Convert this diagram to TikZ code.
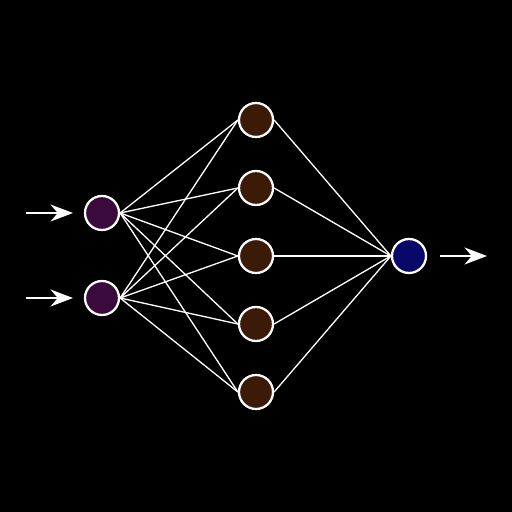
\documentclass[tikz,border=0pt]{standalone}
\usetikzlibrary{arrows.meta}
\definecolor{inpurple}{RGB}{58,10,60}
\definecolor{hidbrown}{RGB}{60,26,8}
\definecolor{outnavy}{RGB}{8,8,104}
\tikzset{
    neuron/.style={circle, draw=white, line width=1.3pt, minimum size=0.68cm, inner sep=0pt},
    link/.style={white, line width=0.75pt},
    flow/.style={white, line width=1pt, -{Stealth[length=4.5mm, width=3.4mm]}}
}
\begin{document}
\begin{tikzpicture}
    % Nền đen, khung 10.24 x 10.24
    \fill[black] (0,0) rectangle (10.24,10.24);
    \useasboundingbox (0,0) rectangle (10.24,10.24);

    % Lớp vào
    \node[neuron, fill=inpurple] (I1) at (2.04, 5.98) {};
    \node[neuron, fill=inpurple] (I2) at (2.04, 4.28) {};

    % Lớp ẩn
    \node[neuron, fill=hidbrown] (H1) at (5.12, 7.84) {};
    \node[neuron, fill=hidbrown] (H2) at (5.12, 6.48) {};
    \node[neuron, fill=hidbrown] (H3) at (5.12, 5.12) {};
    \node[neuron, fill=hidbrown] (H4) at (5.12, 3.76) {};
    \node[neuron, fill=hidbrown] (H5) at (5.12, 2.40) {};

    % Lớp ra
    \node[neuron, fill=outnavy] (O) at (8.18, 5.12) {};

    % Các cạnh nối: từ điểm phải của nút này đến điểm trái của nút kia
    \foreach \i in {1,2}
        \foreach \h in {1,...,5}
            \draw[link] (I\i.east) -- (H\h.west);
    \foreach \h in {1,...,5}
        \draw[link] (H\h.east) -- (O.west);

    % Mũi tên vào và ra
    \coordinate (A1) at (0.52, 5.98);
    \coordinate (A2) at (0.52, 4.28);
    \coordinate (B1) at (1.46, 5.98);
    \coordinate (B2) at (1.46, 4.28);
    \coordinate (C) at (8.80, 5.12);
    \coordinate (D) at (9.74, 5.12);
    \draw[flow] (A1) -- (B1);
    \draw[flow] (A2) -- (B2);
    \draw[flow] (C) -- (D);
\end{tikzpicture}
\end{document}
